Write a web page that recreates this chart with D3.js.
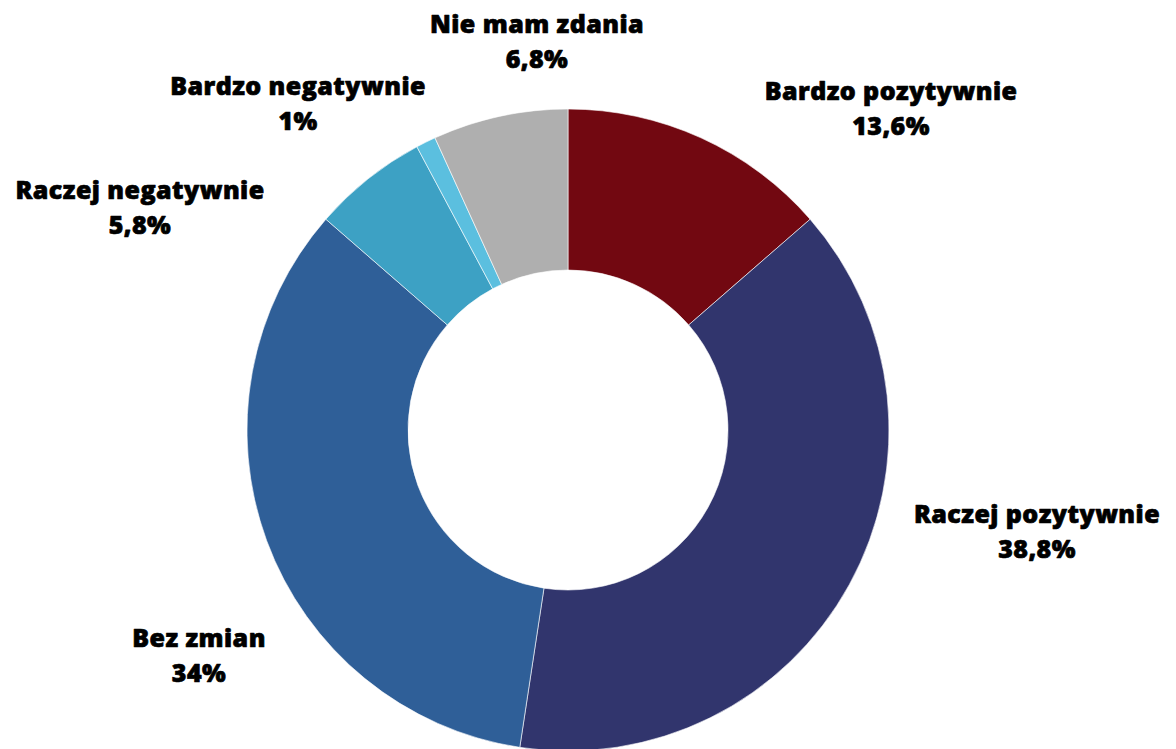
<!DOCTYPE html>
<html>
<head>
<meta charset="utf-8">
<script src="https://cdn.jsdelivr.net/npm/d3@7"></script>
<style>
  html, body { margin: 0; padding: 0; background: #ffffff; }
  svg { display: block; }
  .lbl { font-family: "Open Sans", sans-serif; font-weight: 800; font-size: 25px; letter-spacing: 0.45px;
         fill: #000; stroke: #000; stroke-width: 0.7px; stroke-linejoin: round; }
</style>
</head>
<body>
<svg id="chart" width="1176" height="749"></svg>
<script>
// Answer categories, in clockwise order starting at 12 o'clock
const categories = [
  "Bardzo pozytywnie",
  "Raczej pozytywnie",
  "Bez zmian",
  "Raczej negatywnie",
  "Bardzo negatywnie",
  "Nie mam zdania"
];
// Share of answers, percent
const values = [13.6, 38.8, 34, 5.8, 1, 6.8];
// Printed value labels
const valueLabels = ["13,6%", "38,8%", "34%", "5,8%", "1%", "6,8%"];
// Slice fills
const colors = ["#720811", "#31356d", "#2f5f98", "#3da1c4", "#5bbfdf", "#afafaf"];

const width = 1176, height = 749;
const cx = 568, cy = 430;
const outerR = 321, innerR = 160;

const svg = d3.select("#chart");
const g = svg.append("g").attr("transform", `translate(${cx},${cy})`);

const pie = d3.pie().value(d => d.value).sort(null);
const arc = d3.arc().innerRadius(innerR).outerRadius(outerR);

const data = categories.map((c, i) => ({ name: c, value: values[i], label: valueLabels[i], color: colors[i] }));
const arcs = pie(data);

g.selectAll("path.slice")
  .data(arcs)
  .join("path")
  .attr("class", "slice")
  .attr("d", arc)
  .attr("fill", d => d.data.color)
  .attr("stroke", "#ffffff")
  .attr("stroke-width", 0.6);

// Label placement around the ring: offsets of the first baseline from the centre
const labelOffsets = {
  "Bardzo pozytywnie": [323, -330],
  "Raczej pozytywnie": [469, 93],
  "Bez zmian": [-369, 217],
  "Raczej negatywnie": [-428, -231],
  "Bardzo negatywnie": [-270, -335],
  "Nie mam zdania": [-31, -397]
};
const lineGap = 35;

const labels = g.selectAll("text.lbl")
  .data(arcs)
  .join("text")
  .attr("class", "lbl")
  .attr("text-anchor", "middle")
  .attr("transform", d => {
    const o = labelOffsets[d.data.name];
    return `translate(${o[0]},${o[1]})`;
  });
labels.append("tspan").attr("x", 0).attr("y", 0).text(d => d.data.name);
labels.append("tspan").attr("x", 0).attr("y", lineGap).text(d => d.data.label);
</script>
</body>
</html>
